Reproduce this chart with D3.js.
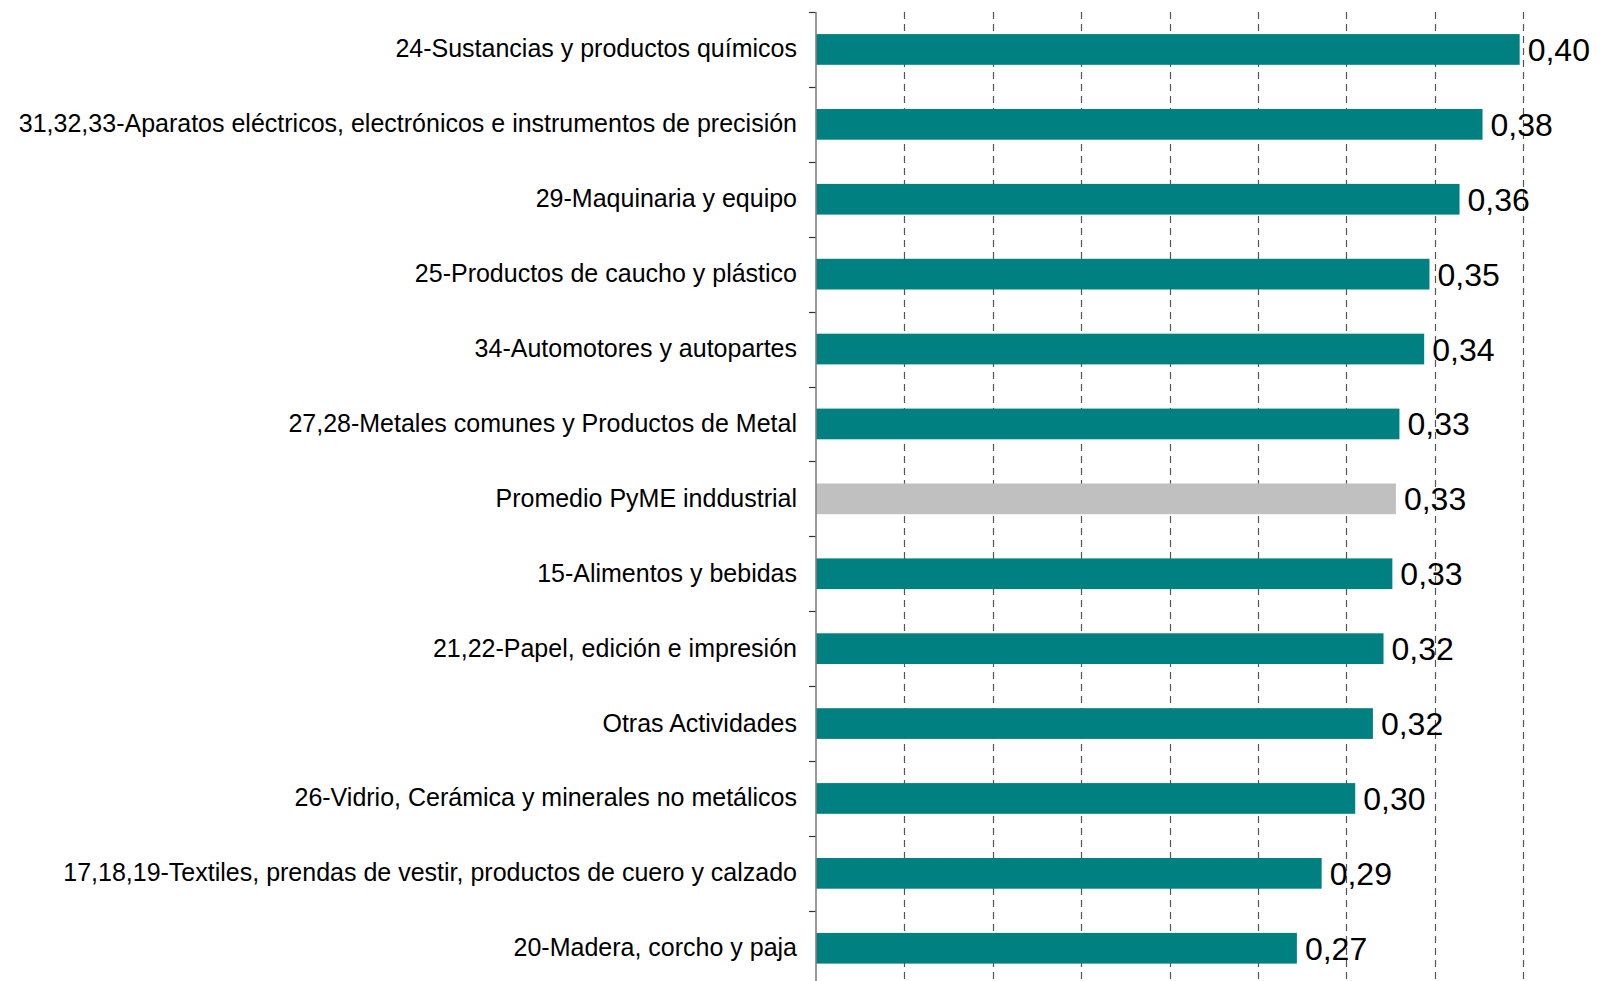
<!DOCTYPE html>
<html>

<head>
    <meta charset="utf-8">
    <title>Indicador por sector</title>
    <style>
        body { margin: 0; background: #fff; }
        text { font-family: "Liberation Sans", Arial, sans-serif; fill: #000; }
    </style>
</head>

<body>

<main></main>

<script src="https://cdn.jsdelivr.net/npm/d3@7/dist/d3.min.js"></script>
<script>
    // datos
    var categories = [
        "24-Sustancias y productos químicos",
        "31,32,33-Aparatos eléctricos, electrónicos e instrumentos de precisión",
        "29-Maquinaria y equipo",
        "25-Productos de caucho y plástico",
        "34-Automotores y autopartes",
        "27,28-Metales comunes y Productos de Metal",
        "Promedio PyME inddustrial",
        "15-Alimentos y bebidas",
        "21,22-Papel, edición e impresión",
        "Otras Actividades",
        "26-Vidrio, Cerámica y minerales no metálicos",
        "17,18,19-Textiles, prendas de vestir, productos de cuero y calzado",
        "20-Madera, corcho y paja"
    ];
    var values = [0.398, 0.377, 0.364, 0.347, 0.344, 0.330, 0.328, 0.326, 0.321, 0.315, 0.305, 0.286, 0.272];
    var averageLabel = "Promedio PyME inddustrial";
    var gridTicks = [0.05, 0.10, 0.15, 0.20, 0.25, 0.30, 0.35, 0.40, 0.45];

    var width = 1607,
        height = 981;
    var svg = d3.select("main").append("svg")
        .attr("width", width).attr("height", height);

    // escalas
    var x = d3.scaleLinear().domain([0, 0.45]).range([816, 1611.6]);
    var y = d3.scaleBand().domain(categories).range([12, 12 + 13 * 74.9])
        .paddingInner(0.59).paddingOuter(0.295);

    // lineas de grilla
    svg.append("g").selectAll("line")
        .data(gridTicks)
        .enter().append("line")
        .attr("x1", function (d) { return Math.round(x(d)) + 0.5; })
        .attr("x2", function (d) { return Math.round(x(d)) + 0.5; })
        .attr("y1", 12).attr("y2", height)
        .attr("stroke", "#555")
        .attr("stroke-width", 1.2)
        .attr("stroke-dasharray", "7,5");

    // barras
    svg.append("g").selectAll("rect")
        .data(values)
        .enter().append("rect")
        .attr("x", x(0))
        .attr("y", function (d, i) { return y(categories[i]); })
        .attr("width", function (d) { return x(d) - x(0); })
        .attr("height", y.bandwidth())
        .attr("fill", function (d, i) { return categories[i] === averageLabel ? "#c0c0c0" : "#008080"; });

    // eje vertical
    var axis = d3.axisLeft(y).tickSize(0).tickPadding(19);
    var gAxis = svg.append("g")
        .attr("transform", "translate(" + x(0) + ",0)")
        .call(axis);
    gAxis.select(".domain").remove();
    gAxis.selectAll("text")
        .style("font-size", "25px")
        .style("font-family", "'Liberation Sans', Arial, sans-serif")
        .attr("fill", "#000");

    // marcas entre categorias
    var bounds = d3.range(categories.length + 1).map(function (i) { return 12 + i * 74.9; });
    svg.append("g").selectAll("line")
        .data(bounds)
        .enter().append("line")
        .attr("x1", x(0) - 7).attr("x2", x(0))
        .attr("y1", function (d) { return Math.round(d) + 0.5; })
        .attr("y2", function (d) { return Math.round(d) + 0.5; })
        .attr("stroke", "#333").attr("stroke-width", 1.2);

    svg.append("line")
        .attr("x1", x(0)).attr("x2", x(0))
        .attr("y1", 12).attr("y2", height)
        .attr("stroke", "#808080").attr("stroke-width", 1.6);

    // etiquetas de valor
    var fmt = d3.format(".2f");
    svg.append("g").selectAll("text")
        .data(values)
        .enter().append("text")
        .attr("x", function (d) { return x(d) + 8; })
        .attr("y", function (d, i) { return y(categories[i]) + y.bandwidth() / 2; })
        .attr("dy", "0.36em")
        .style("font-size", "32px")
        .text(function (d) { return fmt(d).replace(".", ","); });
</script>
</body>

</html>
